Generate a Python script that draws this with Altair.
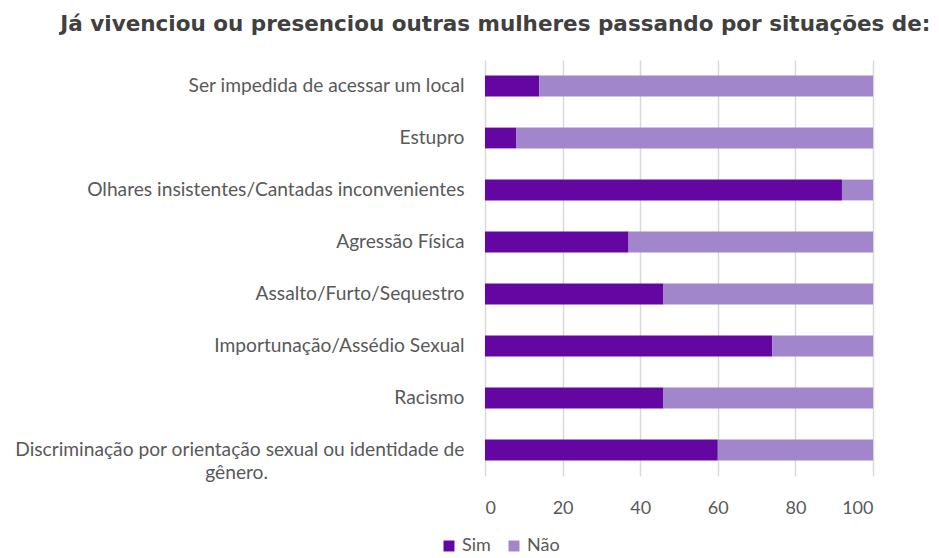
import altair as alt
import pandas as pd

categories = [
    "Ser impedida de acessar um local",
    "Estupro",
    "Olhares insistentes/Cantadas inconvenientes",
    "Agressão Física",
    "Assalto/Furto/Sequestro",
    "Importunação/Assédio Sexual",
    "Racismo",
    "Discriminação por orientação sexual ou identidade de|gênero.",
]
sim = [14, 8, 92, 37, 46, 74, 46, 60]
nao = [86, 92, 8, 63, 54, 26, 54, 40]
series = ["Sim", "Não"]
colors = ["#6406a1", "#a286cc"]
x_ticks = [0, 20, 40, 60, 80, 100]

rows = []
for c, s, n in zip(categories, sim, nao):
    rows.append({"categoria": c, "resposta": "Sim", "valor": s, "ordem": 0})
    rows.append({"categoria": c, "resposta": "Não", "valor": n, "ordem": 1})
df = pd.DataFrame(rows)

label_color = "#595959"
font = "Lato"
nbsp = "\u00a0"
zwsp = "\u200b"

# wrapped label: second line centred under the first
# (padded with no-break spaces, closed by a zero-width space so it is not trimmed)
label_expr = (
    "indexof(datum.label, '|') < 0 ? datum.label : "
    "[split(datum.label, '|')[0], "
    f"pad(split(datum.label, '|')[1], 47, '{nbsp}', 'right') + '{zwsp}']"
)

chart = (
    alt.Chart(df)
    .mark_bar()
    .encode(
        y=alt.Y(
            "categoria:N",
            sort=categories,
            title=None,
            scale=alt.Scale(paddingInner=0.6, paddingOuter=0.3),
            axis=alt.Axis(
                labelExpr=label_expr,
                labelLimit=700,
                labelFont=font,
                labelFontSize=19.2,
                labelColor=label_color,
                labelPadding=21,
                labelLineHeight=23,
                ticks=False,
                domain=False,
                grid=False,
            ),
        ),
        x=alt.X(
            "valor:Q",
            stack="zero",
            title=None,
            scale=alt.Scale(domain=[0, 100], nice=False),
            axis=alt.Axis(
                values=x_ticks,
                labelFont=font,
                labelFontSize=18,
                labelColor=label_color,
                labelPadding=23,
                ticks=False,
                domain=False,
                grid=True,
                gridColor="#d9d9d9",
                gridWidth=1.5,
            ),
        ),
        color=alt.Color(
            "resposta:N",
            sort=series,
            scale=alt.Scale(domain=series, range=colors),
            legend=alt.Legend(
                title=None,
                orient="none",
                direction="horizontal",
                legendX=-45,
                legendY=477,
                symbolType="square",
                symbolSize=120,
                symbolStrokeWidth=0,
                labelFont=font,
                labelFontSize=18,
                labelColor=label_color,
                columnPadding=14,
                labelOffset=4,
            ),
        ),
        order=alt.Order("ordem:Q"),
    )
    .properties(
        width=388,
        height=416,
        padding={"left": 6, "top": 5, "right": 0, "bottom": 5},
        title=alt.TitleParams(
            "Já vivenciou ou presenciou outras mulheres passando por situações de:",
            font="DejaVu Sans",
            fontSize=21.5,
            fontWeight="bold",
            color="#404040",
            anchor="start",
            frame="bounds",
            dx=46,
            offset=25,
        ),
    )
    .configure_view(stroke=None)
)

chart.save("out.html", embed_options={"renderer": "svg", "actions": False})
